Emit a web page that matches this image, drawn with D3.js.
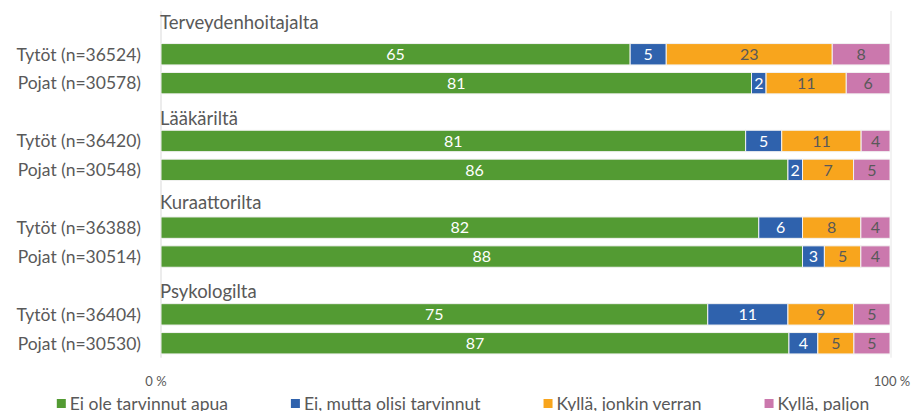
<!DOCTYPE html>
<html>
<head>
<meta charset="utf-8">
<script src="https://cdn.jsdelivr.net/npm/d3@7"></script>
<style>
  body { margin: 0; background: #fff; }
  svg { display: block; font-family: Lato, "Open Sans", sans-serif; }
  .row-label, .group-title, .tick-label, .legend-label { fill: #595959; }
</style>
</head>
<body>
<svg id="chart"></svg>
<script>
// groups (chart titles over each pair of bars)
const groups = ["Terveydenhoitajalta", "Lääkäriltä", "Kuraattorilta", "Psykologilta"];
const girlsN = [36524, 36420, 36388, 36404];
const boysN = [30578, 30548, 30514, 30530];

const seriesNames = ["Ei ole tarvinnut apua", "Ei, mutta olisi tarvinnut", "Kyllä, jonkin verran", "Kyllä, paljon"];
const seriesColors = ["#539b33", "#2f62ad", "#f8a51d", "#cb78ad"];
const labelColors = ["#ffffff", "#ffffff", "#595959", "#595959"];

// values per group, [girls, boys]
const eiOle = [[65, 81], [81, 86], [82, 88], [75, 87]];
const eiMutta = [[5, 2], [5, 2], [6, 3], [11, 4]];
const kyllaJonkin = [[23, 11], [11, 7], [8, 5], [9, 5]];
const kyllaPaljon = [[8, 6], [4, 5], [4, 4], [5, 5]];

const tickLabels = ["0 %", "100 %"];

// layout
const W = 913, H = 411;
const x0 = 161, x1 = 890;
const yTop = 10.9, yBottom = 357.7;
const titleShift = [-3, 6, 4, 6];

const svg = d3.select("#chart").attr("width", W).attr("height", H);

// build rows: title row + girls + boys per group
const rows = [];
const seriesArrays = [eiOle, eiMutta, kyllaJonkin, kyllaPaljon];
groups.forEach((g, gi) => {
  rows.push({ id: "t" + gi, type: "title", group: g, gi });
  [["Tytöt", girlsN[gi]], ["Pojat", boysN[gi]]].forEach(([who, n], k) => {
    const r = { id: "r" + gi + "_" + k, type: "bar", label: `${who} (n=${n})` };
    seriesNames.forEach((s, si) => { r[s] = seriesArrays[si][gi][k]; });
    rows.push(r);
  });
});
const barRows = rows.filter(d => d.type === "bar");

const yScale = d3.scaleBand()
  .domain(rows.map(d => d.id))
  .range([yTop, yBottom])
  .paddingInner(0.26)
  .paddingOuter(0.13);

const xScale = d3.scaleLinear().domain([0, 1]).range([x0, x1]);

const stack = d3.stack().keys(seriesNames).offset(d3.stackOffsetExpand);
const stacked = stack(barRows);

// axis lines (left axis and 100 % line)
svg.append("line")
  .attr("x1", xScale(0)).attr("x2", xScale(0))
  .attr("y1", yTop).attr("y2", yBottom)
  .attr("stroke", "#d9d9d9").attr("stroke-width", 1);
svg.append("line")
  .attr("x1", xScale(1) + 1).attr("x2", xScale(1) + 1)
  .attr("y1", yTop).attr("y2", yBottom)
  .attr("stroke", "#e6e6e6").attr("stroke-width", 1);

// bars
const layers = svg.append("g").selectAll("g")
  .data(stacked)
  .join("g")
  .attr("fill", (d, i) => seriesColors[i]);

layers.selectAll("rect")
  .data(d => d)
  .join("rect")
  .attr("x", d => xScale(d[0]))
  .attr("y", d => yScale(d.data.id))
  .attr("width", d => xScale(d[1]) - xScale(d[0]))
  .attr("height", yScale.bandwidth())
  .attr("stroke", "#f2f2f2")
  .attr("stroke-width", 1);

// data labels
layers.selectAll("text")
  .data((d, i) => d.map(p => ({ p, i })))
  .join("text")
  .attr("x", d => (xScale(d.p[0]) + xScale(d.p[1])) / 2)
  .attr("y", d => yScale(d.p.data.id) + yScale.bandwidth() / 2)
  .attr("dy", "0.36em")
  .attr("text-anchor", "middle")
  .attr("font-size", 16)
  .attr("fill", d => labelColors[d.i])
  .text(d => d.p.data[seriesNames[d.i]]);

// row labels
svg.append("g").selectAll("text")
  .data(barRows)
  .join("text")
  .attr("class", "row-label")
  .attr("x", x0 - 20)
  .attr("y", d => yScale(d.id) + yScale.bandwidth() / 2)
  .attr("dy", "0.36em")
  .attr("text-anchor", "end")
  .attr("font-size", 17.5)
  .text(d => d.label);

// group titles
svg.append("g").selectAll("text")
  .data(rows.filter(d => d.type === "title"))
  .join("text")
  .attr("class", "group-title")
  .attr("x", x0 - 1)
  .attr("y", d => yScale(d.id) + yScale.bandwidth() / 2 + titleShift[d.gi])
  .attr("dy", "0.36em")
  .attr("font-size", 18.5)
  .text(d => d.group);

// x tick labels
svg.append("g").selectAll("text")
  .data(tickLabels)
  .join("text")
  .attr("class", "tick-label")
  .attr("x", (d, i) => xScale(i) - (i === 0 ? 5 : -2))
  .attr("y", 386)
  .attr("text-anchor", "middle")
  .attr("font-size", 13)
  .text(d => d);

// legend
const legend = svg.append("g").attr("transform", `translate(0,410)`);
const items = legend.selectAll("g")
  .data(seriesNames)
  .join("g");
items.append("rect")
  .attr("y", -11)
  .attr("width", 9).attr("height", 9)
  .attr("fill", (d, i) => seriesColors[i]);
items.append("text")
  .attr("class", "legend-label")
  .attr("x", 13)
  .attr("font-size", 17.5)
  .text(d => d);
let widths = [];
items.each(function () { widths.push(this.querySelector("text").getComputedTextLength() + 13); });
const gap = 63;
const total = d3.sum(widths) + gap * (widths.length - 1);
let cx = 463 - total / 2;
items.attr("transform", (d, i) => {
  const t = `translate(${cx},0)`;
  cx += widths[i] + gap;
  return t;
});
</script>
</body>
</html>
